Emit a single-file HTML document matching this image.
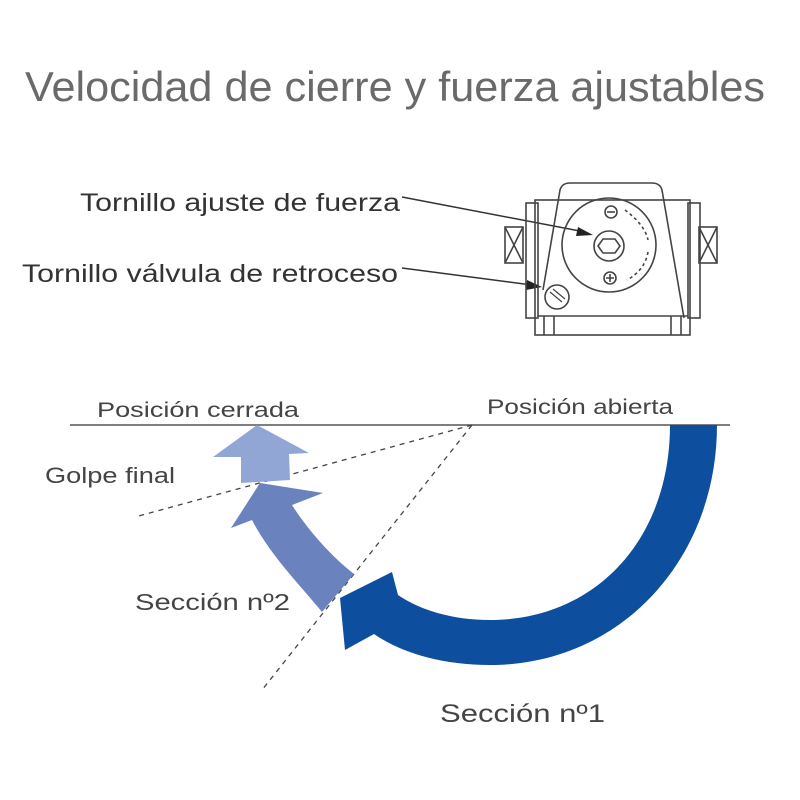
<!DOCTYPE html>
<html><head><meta charset="utf-8"><style>body{margin:0;background:#fff}svg{display:block}</style></head>
<body>
<svg width="800" height="800" viewBox="0 0 800 800" xmlns="http://www.w3.org/2000/svg" font-family="Liberation Sans, sans-serif">
<text x="25" y="101" font-size="42" fill="#6a6a6a" textLength="740" lengthAdjust="spacingAndGlyphs">Velocidad de cierre y fuerza ajustables</text>
<text x="80" y="211" font-size="25" fill="#333" textLength="320" lengthAdjust="spacingAndGlyphs">Tornillo ajuste de fuerza</text>
<text x="22" y="282" font-size="25" fill="#333" textLength="376" lengthAdjust="spacingAndGlyphs">Tornillo válvula de retroceso</text>
<!-- leaders -->
<g stroke="#333" stroke-width="1.5" fill="none">
<line x1="402" y1="197" x2="585" y2="232"/>
<line x1="402" y1="268" x2="532" y2="285"/>
</g>
<polygon points="593,235 578,227 576,236" fill="#222"/>
<polygon points="542,287 527,280 526,290" fill="#222"/>
<!-- device -->
<g stroke="#444" stroke-width="1.6" fill="none">
<path d="M543,290 L560,190 Q562,183 570,183 L652,183 Q660,183 662,190 L684,318"/>
<rect x="535" y="200" width="155" height="135"/>
<rect x="526" y="203" width="12" height="115"/>
<rect x="688" y="203" width="12" height="115"/>
<rect x="505" y="227" width="18" height="36"/>
<path d="M505,227 L523,263 M523,227 L505,263"/>
<rect x="699" y="227" width="18" height="36"/>
<path d="M699,227 L717,263 M717,227 L699,263"/>
<line x1="538" y1="316" x2="688" y2="316"/>
<line x1="544" y1="316" x2="544" y2="335"/><line x1="554" y1="316" x2="554" y2="335"/>
<line x1="671" y1="316" x2="671" y2="335"/><line x1="681" y1="316" x2="681" y2="335"/>
<circle cx="609" cy="245" r="47"/>
<circle cx="609" cy="246" r="15"/>
<polygon points="603,239 615,239 620,246 615,253 603,253 598,246"/>
<circle cx="611" cy="212" r="6"/><line x1="607" y1="212" x2="615" y2="212"/>
<circle cx="610" cy="278" r="6"/><path d="M606,278 h8 M610,274 v8"/>
<circle cx="557" cy="297" r="12"/>
<path d="M550,292 L562,302 M553,289 L565,299" stroke-width="1.2"/>
<path d="M625,210 Q645,225 648,240" stroke-dasharray="3,3"/>
<path d="M648,252 Q645,270 627,280" stroke-dasharray="3,3"/>
</g>
<!-- baseline & labels -->
<line x1="70" y1="425" x2="730" y2="425" stroke="#555" stroke-width="1.5"/>
<text x="97" y="417" font-size="21" fill="#444" textLength="202" lengthAdjust="spacingAndGlyphs">Posición cerrada</text>
<text x="487" y="414" font-size="21" fill="#444" textLength="186" lengthAdjust="spacingAndGlyphs">Posición abierta</text>
<text x="45" y="483" font-size="22" fill="#444" textLength="130" lengthAdjust="spacingAndGlyphs">Golpe final</text>
<text x="135" y="610" font-size="23" fill="#444" textLength="155" lengthAdjust="spacingAndGlyphs">Sección nº2</text>
<text x="440" y="722" font-size="25" fill="#444" textLength="165" lengthAdjust="spacingAndGlyphs">Sección nº1</text>
<!-- dashed -->
<g stroke="#444" stroke-width="1.3" stroke-dasharray="5,5">
<line x1="472" y1="425" x2="135" y2="517"/>
<line x1="472" y1="425" x2="262" y2="690"/>
</g>
<!-- arrow 1 -->
<path d="M717,425 C717,560 620,665 490,665 C440,665 400,652 374,634 L345,650 L340,598 L392,572 L398,595 C420,610 452,620 490,620 C595,620 670,540 670,425 Z" fill="#0d4f9e"/>
<!-- arrow 2 -->
<path d="M322,612 C300,585 270,555 252,520 L231,528 L260,483 L323,493 L292,505 C308,530 330,555 354,574 Z" fill="#6a83bf"/>
<!-- arrow 3 -->
<path d="M241,483 L241,457 L213,457 L257,425 L309,453 L289,454 L290,480 Z" fill="#92a6d6"/>
</svg>
</body></html>
